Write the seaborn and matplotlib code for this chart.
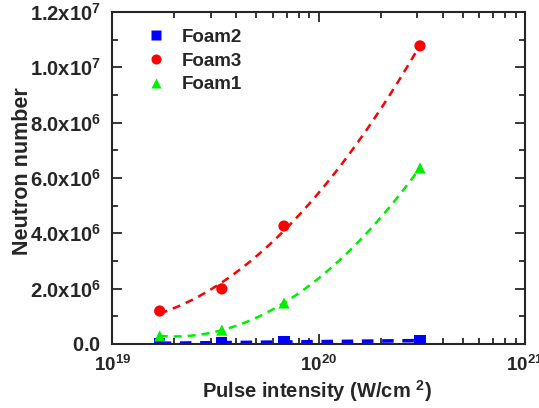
import numpy as np
import pandas as pd
import matplotlib
matplotlib.use("Agg")
import matplotlib.pyplot as plt
import seaborn as sns
from matplotlib.ticker import FixedLocator, NullFormatter, LogLocator, FixedFormatter

intensity = [1.7e19, 3.4e19, 6.8e19, 3.1e20]
foam2 = [0.02e6, 0.05e6, 0.07e6, 0.12e6]
foam3 = [1.19e6, 1.99e6, 4.26e6, 10.77e6]
foam1 = [0.29e6, 0.50e6, 1.48e6, 6.36e6]
series_names = ["Foam2", "Foam3", "Foam1"]
ytick_vals = [0, 2e6, 4e6, 6e6, 8e6, 1e7, 1.2e7]
ytick_labels = [r"$\mathbf{0.0}$", r"$\mathbf{2.0x10^{6}}$", r"$\mathbf{4.0x10^{6}}$",
                r"$\mathbf{6.0x10^{6}}$", r"$\mathbf{8.0x10^{6}}$",
                r"$\mathbf{1.0x10^{7}}$", r"$\mathbf{1.2x10^{7}}$"]
xtick_vals = [1e19, 1e20, 1e21]
xtick_labels = [r"$\mathbf{10^{19}}$", r"$\mathbf{10^{20}}$", r"$\mathbf{10^{21}}$"]

sns.set_style("ticks")
plt.rcParams['font.family'] = ['Liberation Sans', 'DejaVu Sans']
plt.rcParams['mathtext.fontset'] = 'custom'
plt.rcParams['mathtext.rm'] = 'Liberation Sans:bold'
plt.rcParams['mathtext.it'] = 'Liberation Sans:bold'
plt.rcParams['mathtext.bf'] = 'Liberation Sans:bold'

df = pd.DataFrame({
    "x": intensity * 3,
    "y": foam2 + foam3 + foam1,
    "s": [n for n in series_names for _ in intensity],
})
colors = {"Foam2": "#0000ff", "Foam3": "#ff0000", "Foam1": "#00ee00"}
markers = {"Foam2": "s", "Foam3": "o", "Foam1": "^"}

fig, ax = plt.subplots(figsize=(5.39, 4.08), dpi=100)
fig.subplots_adjust(left=0.208, right=0.974, top=0.971, bottom=0.157)

# fitted dashed curves (quadratic fit in log intensity)
lx = np.log10(intensity)
xs = np.logspace(lx.min(), lx.max(), 200)
fit_rows = []
for name, vals in zip(series_names, [foam2, foam3, foam1]):
    deg = 1 if name == "Foam2" else 2
    c = np.polyfit(lx, vals, deg)
    ys = np.polyval(c, np.log10(xs))
    fit_rows.append(pd.DataFrame({"x": xs, "y": ys, "s": name}))
fit_df = pd.concat(fit_rows)
sns.lineplot(data=fit_df, x="x", y="y", hue="s", palette=colors, ax=ax,
             legend=False, linewidth=1.8)
for line in ax.get_lines():
    line.set_dashes([3.2, 2.4])
ax.get_lines()[0].set_linewidth(2.6)

sns.scatterplot(data=df, x="x", y="y", hue="s", style="s", palette=colors,
                markers=markers, s=65, edgecolor="none", ax=ax, zorder=5)

ax.set_xscale("log")
ax.set_xlim(1e19, 1e21)
ax.set_ylim(0, 1.2e7)
ax.set_yticks(ytick_vals)
ax.set_yticklabels(ytick_labels)
ax.yaxis.set_minor_locator(FixedLocator(np.arange(1e6, 1.2e7, 2e6)))
ax.xaxis.set_major_locator(FixedLocator(xtick_vals))
ax.xaxis.set_major_formatter(FixedFormatter(xtick_labels))
ax.xaxis.set_minor_locator(LogLocator(base=10, subs=np.arange(2, 10), numticks=20))
ax.xaxis.set_minor_formatter(NullFormatter())

ax.tick_params(which="both", direction="in", top=True, right=True, width=1.3)
ax.tick_params(axis="y", pad=8, labelsize=14.5)
ax.tick_params(axis="x", pad=8, labelsize=13.5)
ax.tick_params(which="major", length=7)
ax.tick_params(which="minor", length=4)
for sp in ax.spines.values():
    sp.set_linewidth(1.5)

ax.set_xlabel(r"Pulse intensity (W/cm $^{\mathbf{2}}$)", fontsize=14.5, fontweight="bold")
ax.set_ylabel("Neutron number", fontsize=15.5, fontweight="bold")
ax.xaxis.set_label_coords(0.496, -0.142)
ax.yaxis.set_label_coords(-0.218, 0.52)
ax.xaxis.label.set_va("center")
ax.yaxis.label.set_va("center")

leg = ax.legend(loc="upper left", bbox_to_anchor=(0.02, 1.0), frameon=False,
                prop={"weight": "bold", "size": 13.5}, handletextpad=0.4,
                labelspacing=0.35, markerscale=0.9)

fig.savefig("out.png", dpi=100)
